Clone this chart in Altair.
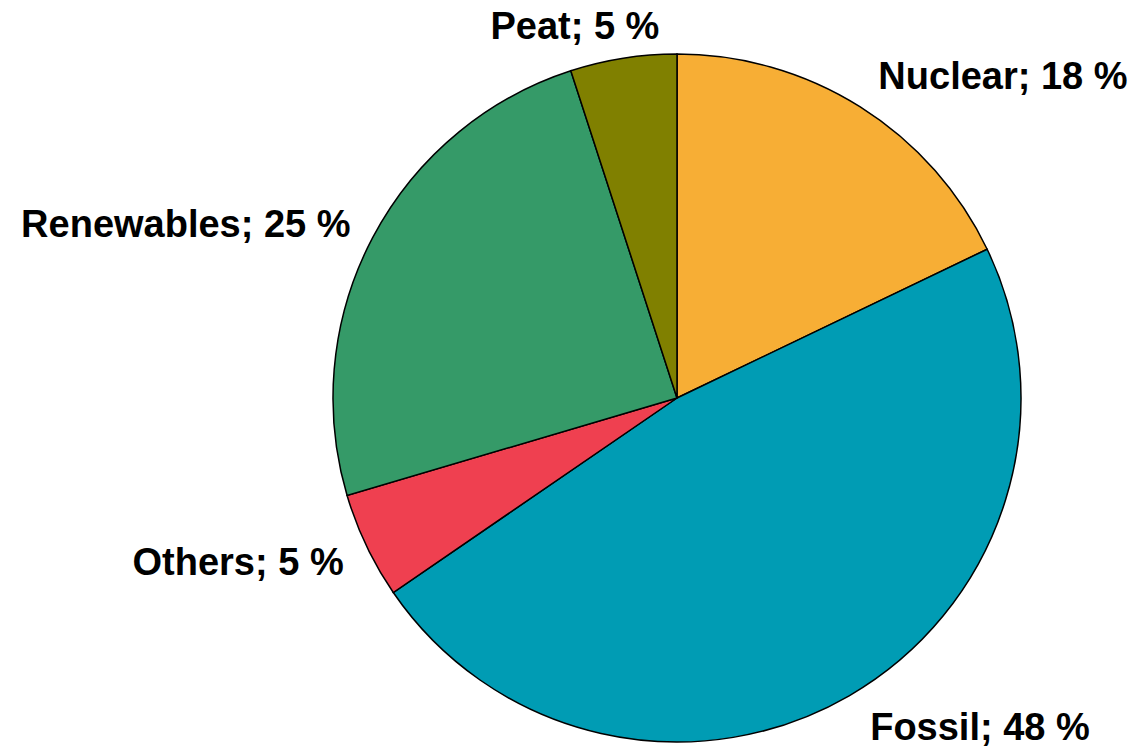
import altair as alt
import pandas as pd

categories = ["Nuclear", "Fossil", "Others", "Renewables", "Peat"]
values = [17.9, 47.6, 5.0, 24.6, 5.0]
labels = ["Nuclear; 18 %", "Fossil; 48 %", "Others; 5 %", "Renewables; 25 %", "Peat; 5 %"]
colors = ["#F7AE35", "#009CB4", "#EF4050", "#359A68", "#808000"]

total = sum(values)
df = pd.DataFrame({
    "category": categories,
    "value": values,
    "label": labels,
    "order": list(range(len(categories))),
})

base = alt.Chart(df).transform_window(
    cum="sum(value)", sort=[alt.SortField("order")], frame=[None, 0]
).transform_calculate(mid="datum.cum - datum.value / 2")

theta_scale = alt.Scale(domain=[0, total])
color = alt.Color("category:N", scale=alt.Scale(domain=categories, range=colors), legend=None)

pie = base.mark_arc(outerRadius=344, stroke="black", strokeWidth=1.5).encode(
    theta=alt.Theta("value:Q", stack=True, scale=theta_scale),
    order=alt.Order("order:Q"),
    color=color,
)

text_style = dict(font="Liberation Sans", fontWeight="bold", fontSize=38, color="black", baseline="middle")


def label_layer(names, align, dx, dy):
    return base.transform_filter(
        alt.FieldOneOfPredicate(field="category", oneOf=names)
    ).mark_text(radius=378, align=align, dx=dx, dy=dy, **text_style).encode(
        theta=alt.Theta("mid:Q", stack=None, scale=theta_scale),
        text="label:N",
    )


nuclear = label_layer(["Nuclear"], "left", 0, 0)
fossil = label_layer(["Fossil"], "left", 4, 4)
right = label_layer(["Others", "Renewables"], "right", 8, 4)
center = label_layer(["Peat"], "center", -43, 3)

chart = alt.layer(pie, nuclear, fossil, right, center).properties(
    width=700,
    height=680,
    padding={"left": 319, "right": 102, "top": 50, "bottom": 9},
    autosize="none",
    background="white",
).configure_view(stroke=None)

chart.save("out.html", embed_options={"renderer": "svg", "actions": False})
